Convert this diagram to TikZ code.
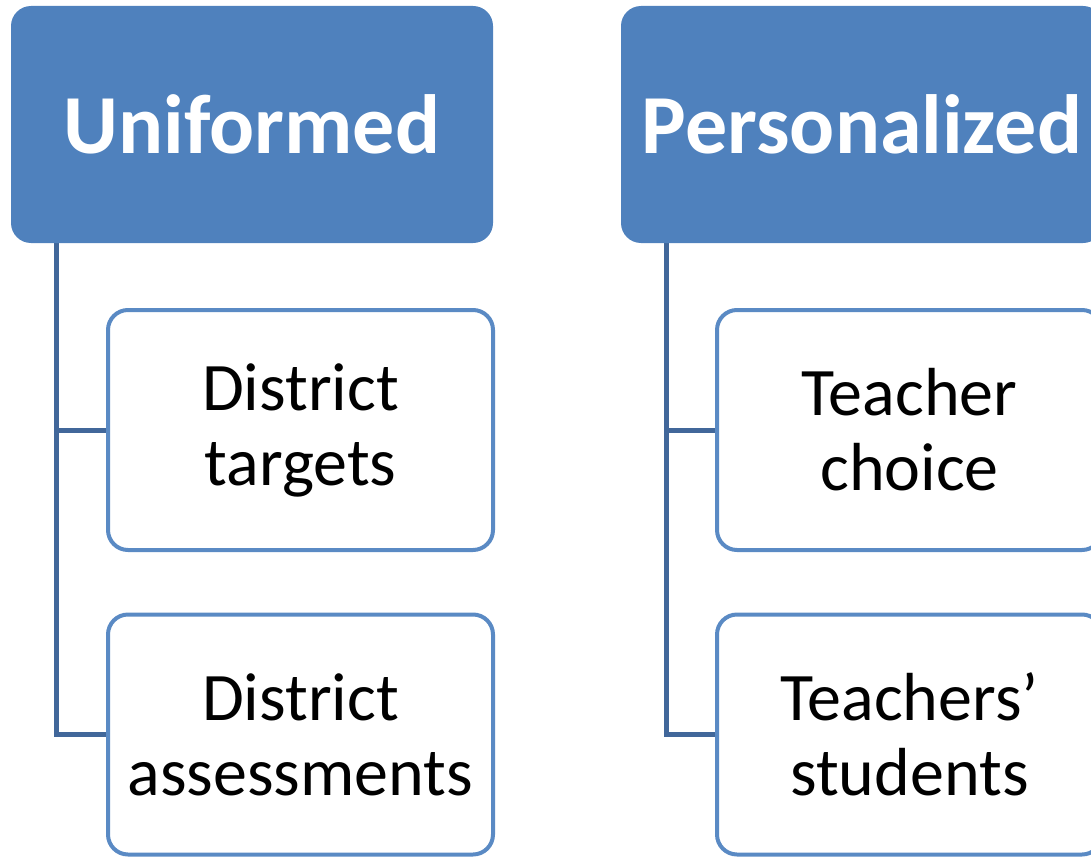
\documentclass[tikz,border=0pt]{standalone}
\usepackage{fontspec}
\setmainfont{Carlito}
\usetikzlibrary{backgrounds}
\definecolor{hdrblue}{HTML}{4F81BD}
\definecolor{connblue}{HTML}{41679A}
\definecolor{boxblue}{HTML}{5A8AC4}
\begin{document}
\begin{tikzpicture}[x=1pt,y=-1pt,
  hdr/.style={fill=hdrblue, draw=none, rounded corners=20pt, inner sep=0pt,
    minimum width=482pt, minimum height=237pt, text=white,
    font=\fontsize{84}{90}\selectfont\bfseries},
  child/.style={fill=white, draw=boxblue, line width=4pt, rounded corners=20pt, inner sep=0pt,
    minimum width=385pt, minimum height=240pt, align=center,
    font=\fontsize{68}{75}\selectfont},
  conn/.style={draw=connblue, line width=5pt}]
\useasboundingbox (0,0) rectangle (1091,856);
\clip (0,0) rectangle (1091,856);
\node[hdr] (hL) at (252,124.5) {Uniformed};
\node[hdr] (hR) at (862,124.5) {Personalized};
\coordinate (tL) at ([xshift=46pt]hL.south west);
\coordinate (tR) at ([xshift=46pt]hR.south west);
\node[child] (c1) at (300.5,430) {District\\targets};
\node[child] (c2) at (300.5,734.5) {District\\assessments};
\node[child] (c3) at (909.5,430) {Teacher\\choice};
\node[child] (c4) at (909.5,734.5) {Teachers’\\students};
\begin{scope}[on background layer]
\draw[conn] (tL) |- (c2.west);
\draw[conn] (tL |- c1.west) -- (c1.west);
\draw[conn] (tR) |- (c4.west);
\draw[conn] (tR |- c3.west) -- (c3.west);
\end{scope}
\end{tikzpicture}
\end{document}
